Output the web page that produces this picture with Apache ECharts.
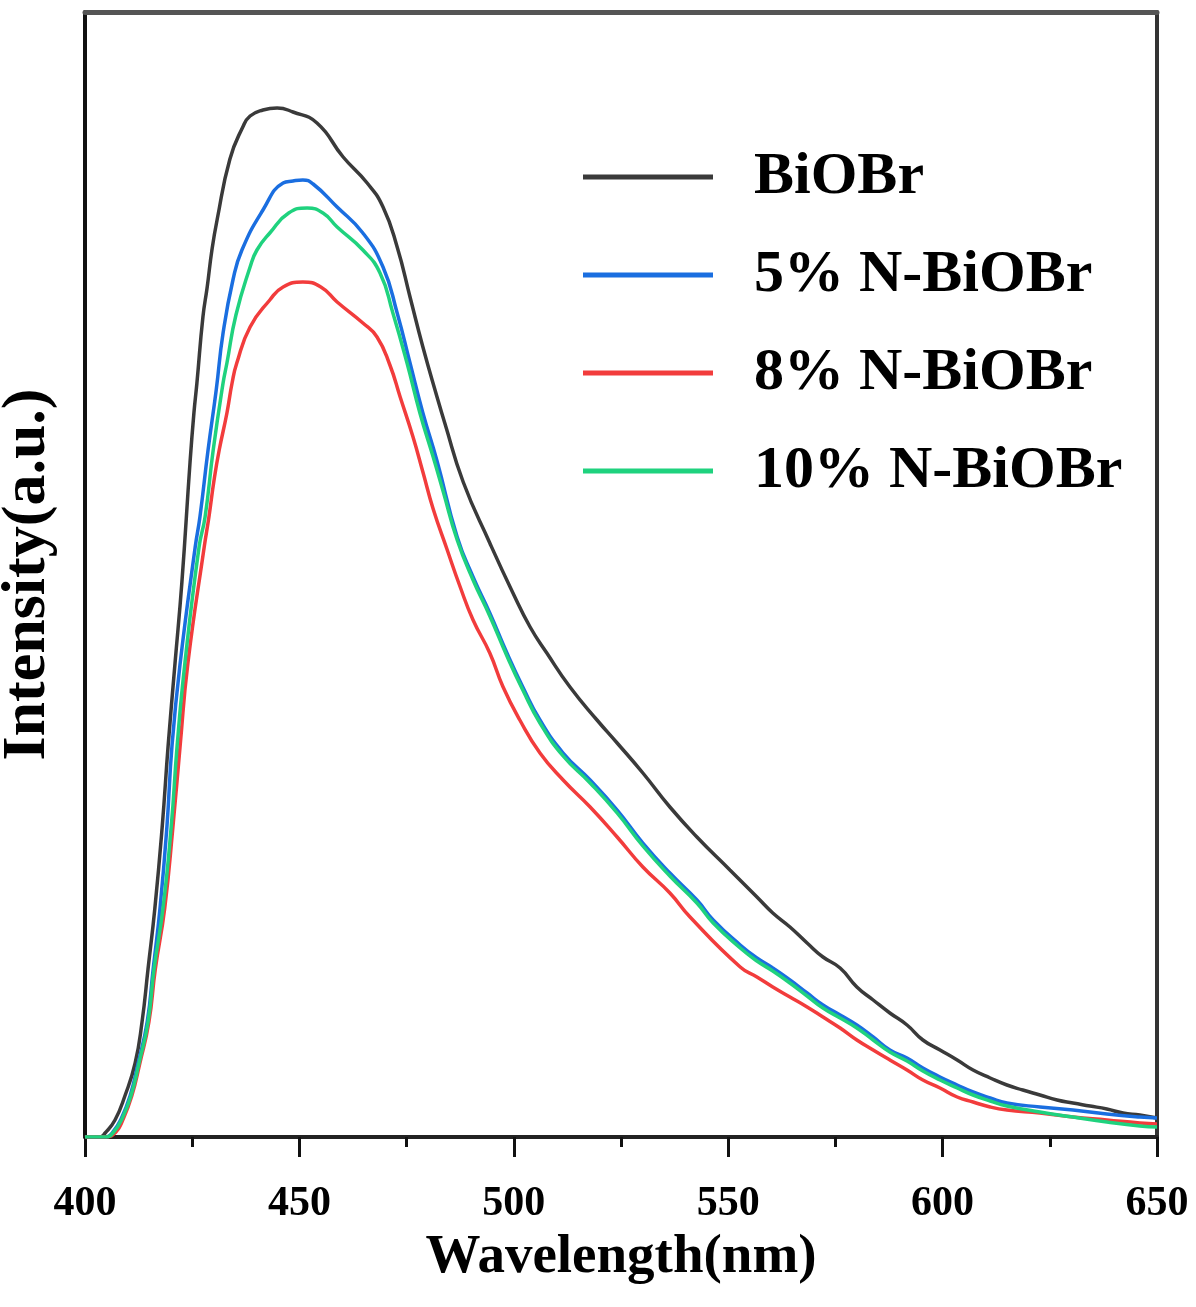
<!DOCTYPE html>
<html>
<head>
<meta charset="utf-8">
<script src="https://cdn.jsdelivr.net/npm/echarts@6/dist/echarts.min.js"></script>
<style>
html,body{margin:0;padding:0;background:#fff;}
#chart{width:1196px;height:1307px;}
</style>
</head>
<body>
<div id="chart"></div>
<script>
// Wavelength (nm) and intensity (a.u.)
const seriesNames = ['BiOBr', '5% N-BiOBr', '8% N-BiOBr', '10% N-BiOBr'];
const xTicks = [400, 450, 500, 550, 600, 650];

const blackWl = [400,403.5,404.7,407.0,409.3,411.7,413.3,414.7,416.3,418.0,419.4,421.0,422.6,424.5,425.4,426.1,427.5,428.5,429.6,430.8,433.8,436.8,438.5,441.5,444.8,448.5,454.1,460.2,465.8,469.5,472.8,475.8,478.8,482.1,483.9,488.2,494.4,499.8,503.8,507.7,513.1,519.4,524.1,530.1,536.4,542.7,550.4,556.7,560.4,564.4,568.4,572.1,576.1,580.0,583.8,587.7,591.7,595.4,599.4,603.4,607.1,611.1,615.0,618.7,622.7,626.7,630.4,634.4,638.3,642.1,646.0,650];
const blackVal = [0,0,4,17,41,74,115,168,229,310,392,474,555,675,724,754,820,850,887,917,978,1010,1021,1027,1029,1025,1014,980,954,930,890,840,790,740,714,655,594,544,510,484,450,417,394,364,330,300,267,240,224,210,194,180,169,150,137,124,112,97,87,77,67,59,52,47,42,37,34,31,28,24,22,19];

const blueWl = [400,405,406.5,408.3,410.5,412.4,414.5,415.9,417.5,419.1,420.3,422.2,425.7,426.8,428.7,430.6,432.2,434.5,436.6,441.5,446.2,448.5,450.8,453.2,458.8,464.8,469.5,472.8,475.8,478.8,482.1,486.8,490.5,494.4,498.4,502.1,506.1,511.5,517.8,524.1,530.1,536.4,542.7,546.5,552.8,556.7,560.4,564.4,568.4,572.1,576.1,580.0,583.8,587.7,591.7,595.4,599.4,603.4,607.1,611.1,615.0,622.7,630.4,638.3,646.0,650];
const blueVal = [0,0,5,17,41,74,115,168,229,310,392,474,590,620,687,747,804,857,887,927,954,956,957,953,930,904,870,824,774,724,676,600,560,524,484,450,417,384,357,327,294,264,237,217,192,179,169,157,144,132,122,112,100,87,79,69,60,52,45,39,34,30,27,23,20,19];

const redWl = [400,405,407.2,408.8,410.9,412.8,414.9,416.4,418.6,420.5,422.2,424.0,427.8,428.9,430.1,431.3,433.1,434.3,435.4,438.5,443.1,446.2,450.8,455.0,458.8,464.8,468.1,471.1,473.5,476.5,478.8,481.2,484.4,487.5,490.5,494.4,497.5,501.4,506.1,511.5,517.8,524.1,530.1,536.4,541.1,552.8,556.7,560.4,564.4,568.4,572.1,576.1,580.0,583.8,587.7,591.7,595.4,599.4,603.4,607.1,611.1,615.0,622.7,630.4,638.3,646.0,650];
const redVal = [0,0,5,17,41,74,115,168,229,310,392,474,590,620,657,687,724,754,774,810,837,850,855,850,835,814,800,772,740,700,665,628,588,550,517,484,450,417,384,357,330,300,270,244,220,170,160,150,140,130,120,109,97,87,77,67,57,49,40,35,30,27,24,20,17,14,13];

const greenWl = [400,405,406.7,408.5,410.7,412.6,414.7,416.1,418.2,420.1,421.5,423.3,426.6,428.0,429.9,432.2,433.1,435.2,438.5,440.1,443.1,447.5,451.8,455.5,458.8,464.8,468.8,471.8,475.1,478.1,481.2,483.5,486.8,490.5,494.4,498.4,502.1,506.1,511.5,517.8,524.1,530.1,536.4,542.7,546.5,552.8,556.7,560.4,564.4,568.4,572.1,576.1,580.0,583.8,587.7,591.7,595.4,599.4,603.4,607.1,611.1,615.0,622.7,630.4,638.3,646.0,650];
const greenVal = [0,0,5,17,41,74,115,168,229,310,392,474,590,620,687,754,774,822,870,887,904,924,929,924,910,887,864,824,774,724,680,646,597,557,521,481,447,414,381,354,324,291,261,234,214,189,176,166,154,141,129,119,109,97,85,76,66,57,49,42,36,31,25,20,15,11,10];

const zip = (a, b) => a.map((x, i) => [x, b[i]]);
const colors = ['#3a3a3a', '#1a6ee0', '#f23c3c', '#1fd27e'];
const seriesData = [zip(blackWl, blackVal), zip(blueWl, blueVal), zip(redWl, redVal), zip(greenWl, greenVal)];

const FONT = '"Liberation Serif", "Times New Roman", serif';
const chart = echarts.init(document.getElementById('chart'));
chart.setOption({
  animation: false,
  backgroundColor: '#fff',
  grid: { left: 85, right: 39, top: 12, bottom: 170, containLabel: false, outerBoundsMode: 'none' },
  legend: {
    orient: 'vertical',
    left: 578,
    top: 142,
    itemWidth: 130,
    itemHeight: 5,
    itemGap: 38,
    icon: 'rect',
    data: seriesNames.map((n, i) => ({ name: n, itemStyle: { color: colors[i] } })),
    textStyle: {
      fontFamily: FONT, fontWeight: 'bold', fontSize: 60, color: '#000',
      lineHeight: 60, padding: [0, 0, 0, 36]
    }
  },
  xAxis: [{
    type: 'value', min: 400, max: 650, interval: 50,
    name: 'Wavelength(nm)', nameLocation: 'middle', nameGap: 88,
    nameTextStyle: { fontFamily: FONT, fontWeight: 'bold', fontSize: 55, color: '#000' },
    axisLine: { show: true, onZero: false, lineStyle: { color: '#222', width: 4 } },
    axisTick: { show: true, inside: false, length: 20, lineStyle: { color: '#111', width: 3 } },
    minorTick: { show: true, splitNumber: 2, length: 10, lineStyle: { color: '#111', width: 3 } },
    axisLabel: { show: true, margin: 46, fontFamily: FONT, fontWeight: 'bold', fontSize: 42, color: '#000',
      formatter: v => xTicks.includes(v) ? String(v) : '' },
    splitLine: { show: false }
  }, {
    type: 'value', min: 400, max: 650, position: 'top',
    axisLine: { show: true, onZero: false, lineStyle: { color: '#555', width: 5 } },
    axisTick: { show: false }, axisLabel: { show: false }, splitLine: { show: false }
  }],
  yAxis: [{
    type: 'value', min: 0, max: 1125,
    name: 'Intensity(a.u.)', nameLocation: 'middle', nameGap: 26,
    nameTextStyle: { fontFamily: FONT, fontWeight: 'bold', fontSize: 62, color: '#000' },
    axisLine: { show: true, onZero: false, lineStyle: { color: '#111', width: 4 } },
    axisTick: { show: false }, axisLabel: { show: false }, splitLine: { show: false }
  }, {
    type: 'value', min: 0, max: 1125, position: 'right',
    axisLine: { show: true, onZero: false, lineStyle: { color: '#333', width: 4 } },
    axisTick: { show: false }, axisLabel: { show: false }, splitLine: { show: false }
  }],
  series: seriesNames.map((n, i) => ({
    name: n, type: 'line', xAxisIndex: 0, yAxisIndex: 0,
    data: seriesData[i], smooth: 0.5, symbol: 'none',
    lineStyle: { color: colors[i], width: 3.5 },
    itemStyle: { color: colors[i] },
    z: i + 2
  }))
});
</script>
</body>
</html>
